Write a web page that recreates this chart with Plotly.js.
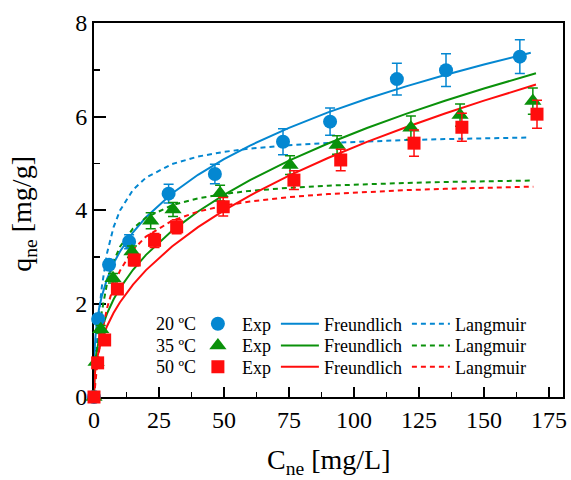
<!DOCTYPE html>
<html><head><meta charset="utf-8">
<script src="https://cdn.plot.ly/plotly-3.0.1.min.js"></script>
<style>html,body{margin:0;padding:0;background:#fff}</style>
</head><body><div id="chart" style="width:571px;height:480px"></div>
<script>
// ---- data ----
const tempLabels = ['20 ºC', '35 ºC', '50 ºC'];
const seriesNames = ['Exp', 'Freundlich', 'Langmuir'];
const xTitle = 'C<sub>ne</sub> [mg/L]';
const yTitle = 'q<sub>ne</sub> [mg/g]';
const xTickVals = [0, 25, 50, 75, 100, 125, 150, 175];
const yTickVals = [0, 2, 4, 6, 8];

// experimental points
const c20 = [0, 1.6, 5.8, 13.5, 28.7, 46.5, 72.7, 90.8, 116.5, 135.4, 163.8];
const q20 = [0, 1.67, 2.83, 3.32, 4.35, 4.77, 5.46, 5.89, 6.80, 6.99, 7.28];
const e20 = [0, 0.08, 0.10, 0.15, 0.20, 0.21, 0.28, 0.29, 0.34, 0.35, 0.36];

const c35 = [0, 0.8, 2.6, 7.3, 14.6, 21.8, 30.4, 48.5, 75.4, 93.5, 121.9, 140.8, 168.8];
const q35 = [0, 0.75, 1.45, 2.54, 3.11, 3.77, 4.01, 4.36, 4.96, 5.39, 5.76, 6.03, 6.33];
const e35 = [0, 0.05, 0.08, 0.10, 0.12, 0.17, 0.15, 0.17, 0.20, 0.20, 0.25, 0.24, 0.28];

const c50 = [0, 1.4, 4.1, 9.0, 15.5, 23.3, 31.8, 49.7, 76.9, 94.9, 123.1, 141.5, 170.4];
const q50 = [0, 0.73, 1.22, 2.31, 2.93, 3.35, 3.64, 4.07, 4.64, 5.07, 5.43, 5.77, 6.05];
const e50 = [0, 0.05, 0.08, 0.10, 0.12, 0.15, 0.15, 0.20, 0.20, 0.23, 0.28, 0.30, 0.30];

// Freundlich curves
const cF20 = [0, 0.05, 0.2, 0.5, 1, 2, 3, 5, 7.5, 10, 15, 20, 30, 40, 50, 60, 75, 90, 105, 120, 135, 150, 168];
const qF20 = [0, 0.619, 0.944, 1.249, 1.543, 1.906, 2.157, 2.521, 2.853, 3.114, 3.524, 3.847, 4.354, 4.753, 5.088, 5.379, 5.758, 6.087, 6.380, 6.645, 6.889, 7.114, 7.364];
const cF35 = [0, 0.05, 0.2, 0.5, 1, 2, 3, 5, 7.5, 10, 15, 20, 30, 40, 50, 60, 75, 90, 105, 120, 135, 150, 170];
const qF35 = [0, 0.304, 0.518, 0.736, 0.961, 1.254, 1.466, 1.784, 2.085, 2.329, 2.722, 3.041, 3.554, 3.969, 4.325, 4.639, 5.055, 5.422, 5.753, 6.056, 6.336, 6.598, 6.924];
const cF50 = [0, 0.05, 0.2, 0.5, 1, 2, 3, 5, 7.5, 10, 15, 20, 30, 40, 50, 60, 75, 90, 105, 120, 135, 150, 170];
const qF50 = [0, 0.218, 0.390, 0.574, 0.769, 1.030, 1.221, 1.514, 1.796, 2.027, 2.405, 2.714, 3.220, 3.634, 3.992, 4.310, 4.735, 5.113, 5.456, 5.771, 6.065, 6.340, 6.683];

// Langmuir curves
const cL20 = [0, 0.25, 0.5, 1, 2, 3, 5, 7.5, 10, 15, 20, 30, 40, 50, 60, 75, 90, 105, 120, 135, 150, 167];
const qL20 = [0, 0.315, 0.597, 1.081, 1.818, 2.351, 3.072, 3.629, 3.990, 4.432, 4.692, 4.983, 5.143, 5.244, 5.314, 5.385, 5.434, 5.470, 5.496, 5.517, 5.534, 5.550];
const cL35 = [0, 0.25, 0.5, 1, 2, 3, 5, 7.5, 10, 15, 20, 30, 40, 50, 60, 75, 90, 105, 120, 135, 150, 168];
const qL35 = [0, 0.235, 0.447, 0.818, 1.396, 1.826, 2.424, 2.898, 3.213, 3.604, 3.837, 4.103, 4.250, 4.344, 4.409, 4.475, 4.521, 4.554, 4.579, 4.599, 4.615, 4.630];
const cL50 = [0, 0.25, 0.5, 1, 2, 3, 5, 7.5, 10, 15, 20, 30, 40, 50, 60, 75, 90, 105, 120, 135, 150, 169];
const qL50 = [0, 0.154, 0.298, 0.561, 1.002, 1.358, 1.898, 2.368, 2.703, 3.149, 3.431, 3.770, 3.965, 4.093, 4.182, 4.276, 4.341, 4.388, 4.425, 4.453, 4.476, 4.500];

// ---- styling ----
const FONT = '"Liberation Serif", "Times New Roman", serif';
const colors = ['#0487d1', '#0a910a', '#ff0d0d'];
const symbols = ['circle', 'triangle-up', 'square'];
const msizes = [14, 15, 13];
const legendIds = ['legend', 'legend2', 'legend3'];

const expC = [c20, c35, c50], expQ = [q20, q35, q50], expE = [e20, e35, e50];
const fC = [cF20, cF35, cF50], fQ = [qF20, qF35, qF50];
const lC = [cL20, cL35, cL50], lQ = [qL20, qL35, qL50];

const traces = [];
// curves first (drawn below markers)
for (let i = 0; i < 3; i++) {
  traces.push({x: lC[i], y: lQ[i], type: 'scatter', mode: 'lines', name: seriesNames[2],
    line: {color: colors[i], width: 2, dash: '5px,4px'}, legend: legendIds[i], legendrank: 3,
    hoverinfo: 'skip'});
  traces.push({x: fC[i], y: fQ[i], type: 'scatter', mode: 'lines', name: seriesNames[1],
    line: {color: colors[i], width: 2}, legend: legendIds[i], legendrank: 2, hoverinfo: 'skip'});
}
for (let i = 0; i < 3; i++) {
  traces.push({x: expC[i], y: expQ[i], type: 'scatter', mode: 'markers', name: seriesNames[0],
    marker: {color: colors[i], symbol: symbols[i], size: msizes[i]},
    error_y: {type: 'data', array: expE[i], visible: true, color: colors[i], thickness: 1.5, width: 5},
    cliponaxis: false, legend: legendIds[i], legendrank: 1});
}

const rowY = [0.195, 0.137, 0.080];
const legendBase = {
  orientation: 'h', x: 0.213, xanchor: 'left', yanchor: 'middle',
  bgcolor: 'rgba(0,0,0,0)', borderwidth: 0, itemwidth: 38,
  font: {family: FONT, size: 18, color: '#000'}, traceorder: 'normal'
};
const titleFont = {family: FONT, size: 28, color: '#000'};
const annotations = tempLabels.map((t, i) => ({
  text: t, xref: 'paper', yref: 'paper', x: 0.128, y: rowY[i], xanchor: 'left', yanchor: 'middle',
  showarrow: false, font: {family: FONT, size: 18, color: '#000'}
}));
annotations.push({text: xTitle, xref: 'paper', yref: 'paper', x: 0.5, y: 0, xanchor: 'center',
  yanchor: 'middle', yshift: -64, showarrow: false, font: titleFont});
annotations.push({text: yTitle, xref: 'paper', yref: 'paper', x: 0, y: 0.49, xanchor: 'center',
  yanchor: 'middle', xshift: -70, textangle: -90, showarrow: false, font: titleFont});

const layout = {
  width: 571, height: 480,
  margin: {l: 94, r: 8, t: 23, b: 83},
  paper_bgcolor: '#fff', plot_bgcolor: '#fff',
  font: {family: FONT, color: '#000'},
  showlegend: true,
  xaxis: {
    range: [0, 180.4], tickvals: xTickVals, ticks: 'inside', ticklen: 10, tickwidth: 2,
    tickcolor: '#000', showline: true, linewidth: 2, linecolor: '#000', mirror: true,
    showgrid: false, zeroline: false, layer: 'below traces',
    tickfont: {family: FONT, size: 24, color: '#000'},
    minor: {dtick: 12.5, ticks: 'inside', ticklen: 5, tickwidth: 1.5, tickcolor: '#000', showgrid: false}
  },
  yaxis: {
    range: [0, 8], tickvals: yTickVals, ticks: 'inside', ticklen: 12, tickwidth: 2,
    tickcolor: '#000', showline: true, linewidth: 2, linecolor: '#000', mirror: true,
    showgrid: false, zeroline: false, layer: 'below traces',
    tickfont: {family: FONT, size: 24, color: '#000'},
    minor: {dtick: 1, ticks: 'inside', ticklen: 6, tickwidth: 1.5, tickcolor: '#000', showgrid: false}
  },
  legend: Object.assign({}, legendBase, {y: rowY[0]}),
  legend2: Object.assign({}, legendBase, {y: rowY[1]}),
  legend3: Object.assign({}, legendBase, {y: rowY[2]}),
  annotations: annotations
};
Plotly.newPlot('chart', traces, layout, {displayModeBar: false, staticPlot: true});
</script>
</body></html>
